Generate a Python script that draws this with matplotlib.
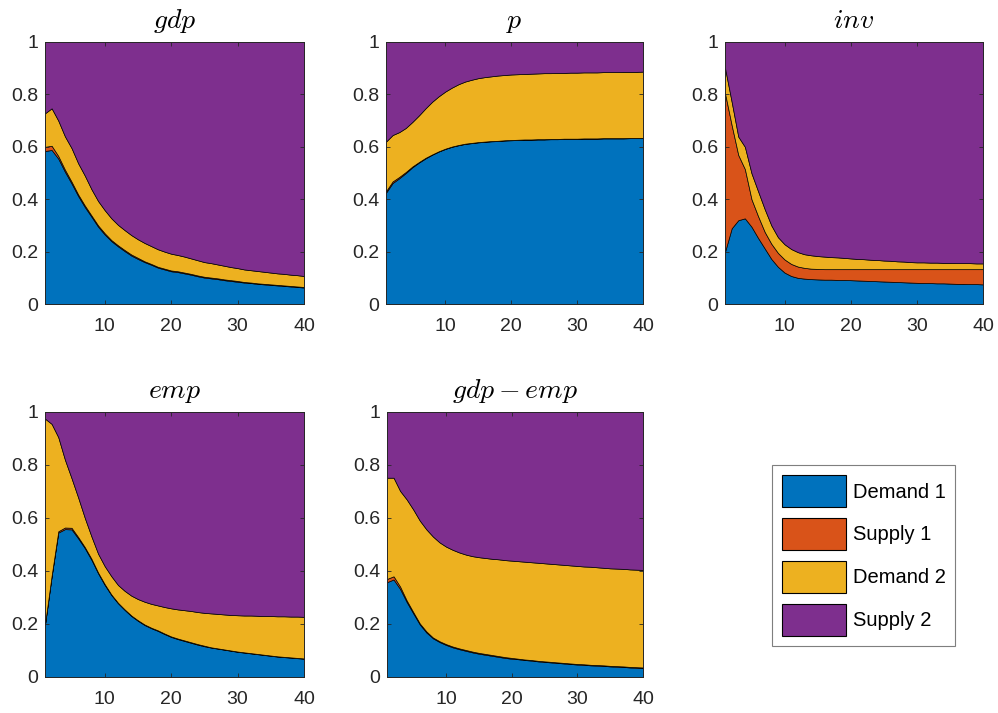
import numpy as np
import matplotlib
matplotlib.use("Agg")
from matplotlib import pyplot as plt
from matplotlib.patches import Patch

# Forecast error variance shares, horizons 1..40
horizons = np.arange(1, 41)
shock_names = ["Demand 1", "Supply 1", "Demand 2", "Supply 2"]
colors = ["#0072BD", "#D95319", "#EDB120", "#7E2F8E"]

gdp_demand1 = [.584, .588, .555, .505, .460, .412, .370, .333, .295, .265,
               .240, .220, .202, .185, .172, .160, .150, .139, .132, .125,
               .122, .117, .112, .106, .101, .098, .095, .091, .088, .085,
               .082, .080, .077, .075, .073, .071, .069, .067, .065, .063]
gdp_supply1 = [.016, .016, .010, .008, .007, .006, .006, .005, .005, .005,
               .004, .004, .004, .004, .004, .003, .003, .003, .003, .003,
               .003, .003, .003, .003, .003, .003, .003, .003, .003, .003,
               .002, .002, .002, .002, .002, .002, .002, .002, .002, .002]
gdp_demand2 = [.128, .143, .135, .127, .128, .119, .114, .100, .093, .088,
               .083, .078, .076, .074, .071, .070, .068, .067, .065, .064,
               .062, .061, .059, .058, .056, .055, .053, .052, .050, .049,
               .048, .047, .047, .046, .045, .044, .044, .043, .043, .042]

p_demand1 = [.425, .462, .480, .500, .522, .540, .556, .570, .582, .592,
             .600, .606, .611, .614, .617, .619, .621, .622, .624, .625,
             .626, .627, .627, .628, .628, .629, .629, .630, .630, .630,
             .631, .631, .631, .632, .632, .632, .632, .633, .633, .633]
p_supply1 = [.006, .006, .005, .004, .003, .002, .002, .001, .001, .001,
             .001, .001, .001, .001, .001, .001, .001, .001, .001, .001,
             .001, .001, .001, .001, .001, .001, .001, .001, .001, .001,
             .001, .001, .001, .001, .001, .001, .001, .001, .001, .001]
p_demand2 = [.189, .177, .171, .168, .170, .178, .189, .201, .210, .218,
             .225, .232, .237, .241, .244, .246, .247, .249, .249, .250,
             .250, .250, .251, .251, .252, .251, .252, .251, .252, .252,
             .252, .252, .252, .252, .252, .252, .253, .252, .252, .253]

inv_demand1 = [.200, .289, .320, .327, .295, .252, .212, .172, .142, .120,
               .107, .100, .097, .095, .094, .093, .093, .092, .092, .091,
               .090, .089, .088, .087, .086, .085, .084, .083, .082, .081,
               .080, .080, .079, .079, .078, .077, .077, .076, .076, .075]
inv_supply1 = [.604, .394, .249, .188, .105, .083, .063, .058, .053, .050,
               .046, .043, .041, .040, .040, .040, .040, .041, .041, .042,
               .043, .044, .045, .046, .047, .048, .049, .050, .051, .052,
               .053, .053, .054, .054, .055, .056, .056, .057, .057, .058]
inv_demand2 = [.096, .089, .070, .085, .099, .095, .087, .070, .060, .058,
               .057, .055, .052, .051, .049, .048, .046, .045, .043, .041,
               .039, .038, .036, .035, .033, .032, .030, .029, .027, .026,
               .026, .025, .025, .024, .024, .023, .023, .023, .022, .022]

emp_demand1 = [.198, .380, .545, .558, .557, .523, .486, .442, .391, .347,
               .309, .278, .253, .230, .212, .196, .184, .174, .162, .151,
               .143, .136, .129, .122, .116, .111, .107, .103, .099, .095,
               .092, .089, .086, .083, .080, .077, .075, .073, .071, .069]
emp_supply1 = [.002, .003, .005, .006, .006, .005, .004, .004, .003, .003,
               .002, .002, .002, .002, .002, .002, .002, .002, .002, .002,
               .002, .002, .002, .002, .002, .001, .001, .001, .001, .001,
               .001, .001, .001, .001, .001, .001, .001, .001, .001, .001]
emp_demand2 = [.775, .572, .355, .256, .187, .149, .110, .084, .071, .068,
               .069, .067, .070, .075, .080, .086, .090, .094, .100, .106,
               .110, .114, .118, .121, .124, .128, .130, .132, .134, .137,
               .139, .142, .144, .146, .149, .151, .153, .154, .156, .157]

gdpemp_demand1 = [.358, .368, .332, .283, .240, .198, .168, .146, .132, .121,
                  .112, .105, .099, .093, .088, .084, .080, .076, .072, .069,
                  .067, .064, .062, .059, .057, .055, .053, .051, .049, .047,
                  .046, .044, .043, .042, .040, .039, .038, .036, .035, .034]
gdpemp_supply1 = [.012, .012, .009, .006, .005, .004, .004, .003, .003, .003,
                  .003, .003, .003, .003, .003, .003, .003, .003, .003, .003,
                  .002, .002, .002, .002, .002, .002, .002, .002, .002, .002,
                  .002, .002, .002, .002, .002, .002, .002, .002, .002, .002]
gdpemp_demand2 = [.382, .372, .361, .381, .387, .388, .385, .381, .373, .368,
                  .365, .362, .360, .360, .361, .362, .363, .365, .366, .367,
                  .368, .369, .369, .370, .370, .370, .370, .370, .370, .370,
                  .369, .370, .369, .368, .368, .368, .368, .368, .368, .368]

panels = [
    ("$gdp$", gdp_demand1, gdp_supply1, gdp_demand2),
    ("$p$", p_demand1, p_supply1, p_demand2),
    ("$inv$", inv_demand1, inv_supply1, inv_demand2),
    ("$emp$", emp_demand1, emp_supply1, emp_demand2),
    ("$gdp - emp$", gdpemp_demand1, gdpemp_supply1, gdpemp_demand2),
]

# axes rectangles [left, bottom, width, height] in figure fractions
positions = [
    [0.0451, 0.5736, 0.2595, 0.3675],
    [0.3868, 0.5736, 0.2575, 0.3675],
    [0.7265, 0.5736, 0.2585, 0.3675],
    [0.0451, 0.0505, 0.2595, 0.3717],
    [0.3878, 0.0505, 0.2565, 0.3717],
]

plt.rcParams["font.family"] = ["Liberation Sans", "DejaVu Sans"]
plt.rcParams["mathtext.fontset"] = "cm"

fig = plt.figure(figsize=(9.98, 7.13), dpi=100)

for (title, d1, s1, d2), pos in zip(panels, positions):
    ax = fig.add_axes(pos)
    d1 = np.array(d1)
    s1 = np.array(s1)
    d2 = np.array(d2)
    s2 = 1 - d1 - s1 - d2
    ax.stackplot(horizons, d1, s1, d2, s2, colors=colors,
                 edgecolor="black", linewidth=0.5)
    ax.set_xlim(1, 40)
    ax.set_ylim(0, 1)
    ax.set_xticks([10, 20, 30, 40])
    ax.set_yticks([0, 0.2, 0.4, 0.6, 0.8, 1])
    ax.set_yticklabels(["0", "0.2", "0.4", "0.6", "0.8", "1"])
    ax.tick_params(direction="in", top=True, right=True, labelsize=14,
                   length=3, width=0.6, colors="#262626")
    ax.tick_params(axis="x", pad=10)
    ax.tick_params(axis="y", pad=5)
    for spine in ax.spines.values():
        spine.set_color("#262626")
        spine.set_linewidth(0.6)
    ax.set_title(title, fontsize=20, pad=10)

handles = [Patch(facecolor=c, edgecolor="black", linewidth=0.8) for c in colors]
leg = fig.legend(handles, shock_names, loc="upper left",
                 bbox_to_anchor=(0.7735, 0.348), fontsize=14.5,
                 handlelength=3.2, handleheight=2.1, labelspacing=0.52,
                 handletextpad=0.3, borderpad=0.5, borderaxespad=0,
                 fancybox=False, framealpha=1)
leg.get_frame().set_edgecolor("#7f7f7f")
leg.get_frame().set_linewidth(0.8)

fig.savefig("out.png", dpi=100)
